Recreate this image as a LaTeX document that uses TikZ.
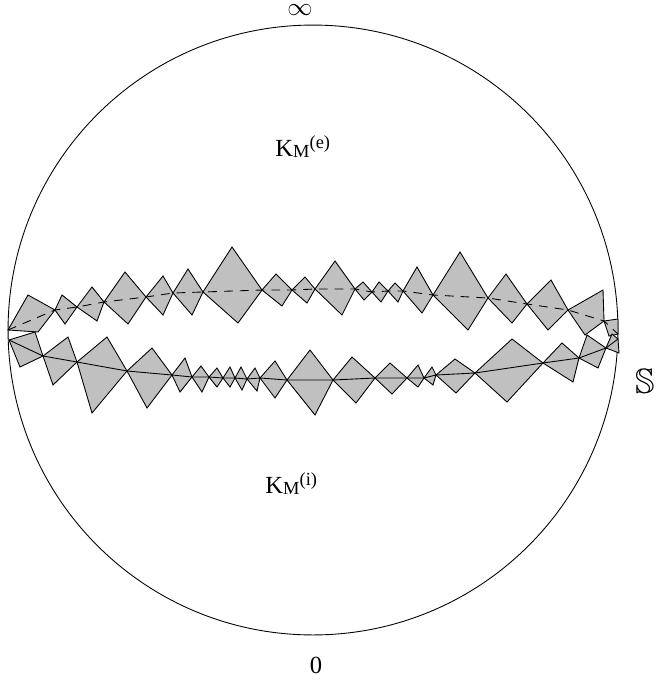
\documentclass[tikz,border=0pt]{standalone}
\usepackage{amssymb}
\usepackage{fontspec}
\setmainfont{Liberation Serif}
\usetikzlibrary{positioning}
\definecolor{PieceGray}{RGB}{192,192,192}
\tikzset{piece/.style={fill=PieceGray,draw=black,line width=0.5pt},
	lbl/.style={font=\fontsize{14}{16}\selectfont,inner sep=0pt}}
\newcommand{\chainpiece}[4]{\filldraw[piece] #1 -- #2 -- #3 -- #4 -- cycle;}
\newcommand{\kmlabel}[1]{K\raisebox{-1pt}{\fontsize{10.5}{12}\selectfont M}\raisebox{4.5pt}{\fontsize{10.5}{12}\selectfont (#1)}}

\begin{document}
\begin{tikzpicture}[x=0.02cm,y=-0.02cm,line width=0.5pt]
	\useasboundingbox (0,0) rectangle (656,683);
	\draw (313,330) circle [radius=6.1cm];
	% upper chain
	\chainpiece{(8,330)}{(28,295)}{(55,310)}{(38,332)}
	\chainpiece{(55,310)}{(62,295)}{(77,307)}{(65,324)}
	\chainpiece{(77,307)}{(92,287)}{(104,302)}{(97,321)}
	\chainpiece{(104,302)}{(125,272)}{(146,297)}{(128,324)}
	\chainpiece{(146,297)}{(163,276)}{(173,293)}{(163,315)}
	\chainpiece{(173,293)}{(188,269)}{(203,292)}{(192,315)}
	\chainpiece{(203,292)}{(232,247)}{(262,290)}{(238,323)}
	\chainpiece{(262,290)}{(276,274)}{(292,290)}{(282,306)}
	\chainpiece{(292,290)}{(305,277)}{(315,289)}{(307,303)}
	\chainpiece{(315,289)}{(335,261)}{(355,289)}{(342,315)}
	\chainpiece{(355,289)}{(363,282)}{(372,292)}{(364,300)}
	\chainpiece{(372,292)}{(379,282)}{(388,291)}{(381,302)}
	\chainpiece{(388,291)}{(395,283)}{(403,291)}{(398,302)}
	\chainpiece{(403,291)}{(417,267)}{(433,295)}{(422,313)}
	\chainpiece{(433,295)}{(460,252)}{(488,298)}{(468,330)}
	\chainpiece{(488,298)}{(506,274)}{(527,304)}{(512,323)}
	\chainpiece{(527,304)}{(551,280)}{(568,310)}{(548,330)}
	\chainpiece{(568,310)}{(603,290)}{(604,321)}{(585,335)}
	\chainpiece{(604,321)}{(618,319)}{(618,334)}{(609,336)}
	% lower chain
	\chainpiece{(9,340)}{(35,332)}{(43,356)}{(20,367)}
	\chainpiece{(43,356)}{(68,337)}{(77,362)}{(53,385)}
	\chainpiece{(77,362)}{(107,337)}{(127,371)}{(92,413)}
	\chainpiece{(127,371)}{(152,348)}{(172,375)}{(147,408)}
	\chainpiece{(172,375)}{(185,358)}{(192,377)}{(180,392)}
	\chainpiece{(192,377)}{(201,366)}{(209,377)}{(202,392)}
	\chainpiece{(209,377)}{(217,368)}{(223,378)}{(217,387)}
	\chainpiece{(223,378)}{(230,367)}{(235,378)}{(230,387)}
	\chainpiece{(235,378)}{(241,367)}{(247,379)}{(242,390)}
	\chainpiece{(247,379)}{(255,368)}{(260,378)}{(257,391)}
	\chainpiece{(260,378)}{(275,361)}{(287,380)}{(275,398)}
	\chainpiece{(287,380)}{(310,350)}{(333,380)}{(315,415)}
	\chainpiece{(333,380)}{(352,357)}{(375,378)}{(356,403)}
	\chainpiece{(375,378)}{(390,363)}{(407,378)}{(392,394)}
	\chainpiece{(407,378)}{(418,365)}{(424,378)}{(418,387)}
	\chainpiece{(424,378)}{(432,367)}{(436,375)}{(433,385)}
	\chainpiece{(436,375)}{(455,359)}{(475,373)}{(456,393)}
	\chainpiece{(475,373)}{(512,339)}{(543,363)}{(507,402)}
	\chainpiece{(543,363)}{(562,343)}{(579,358)}{(573,382)}
	\chainpiece{(579,358)}{(587,335)}{(606,348)}{(598,368)}
	\chainpiece{(606,348)}{(612,334)}{(618,339)}{(619,353)}
	% back and front halves of the equator
	\draw[dash pattern=on 5pt off 4pt] plot coordinates {(8,330) (55,310) (77,307) (104,302) (146,297) (173,293) (203,292) (262,290) (292,290) (315,289) (355,289) (372,292) (388,291) (403,291) (433,295) (488,298) (527,304) (568,310) (604,321) (618,334)};
	\draw plot coordinates {(9,340) (43,356) (77,362) (127,371) (172,375) (192,377) (209,377) (223,378) (235,378) (247,379) (260,378) (287,380) (333,380) (375,378) (407,378) (424,378) (436,375) (475,373) (543,363) (579,358) (606,348) (618,339)};
	% labels
	\node[lbl,anchor=north] (infty) at (300,4) {$\infty$};
	\node[lbl] (zero) at (316,665) {0};
	\node[lbl,anchor=base west] (Kext) at (275,156) {\kmlabel{e}};
	\node[lbl,anchor=base west] (Kint) at (265,493) {\kmlabel{i}};
	\node[lbl,font=\fontsize{20}{22}\selectfont] (sphere) at (645,381) {$\mathbb{S}$};
\end{tikzpicture}
\end{document}
